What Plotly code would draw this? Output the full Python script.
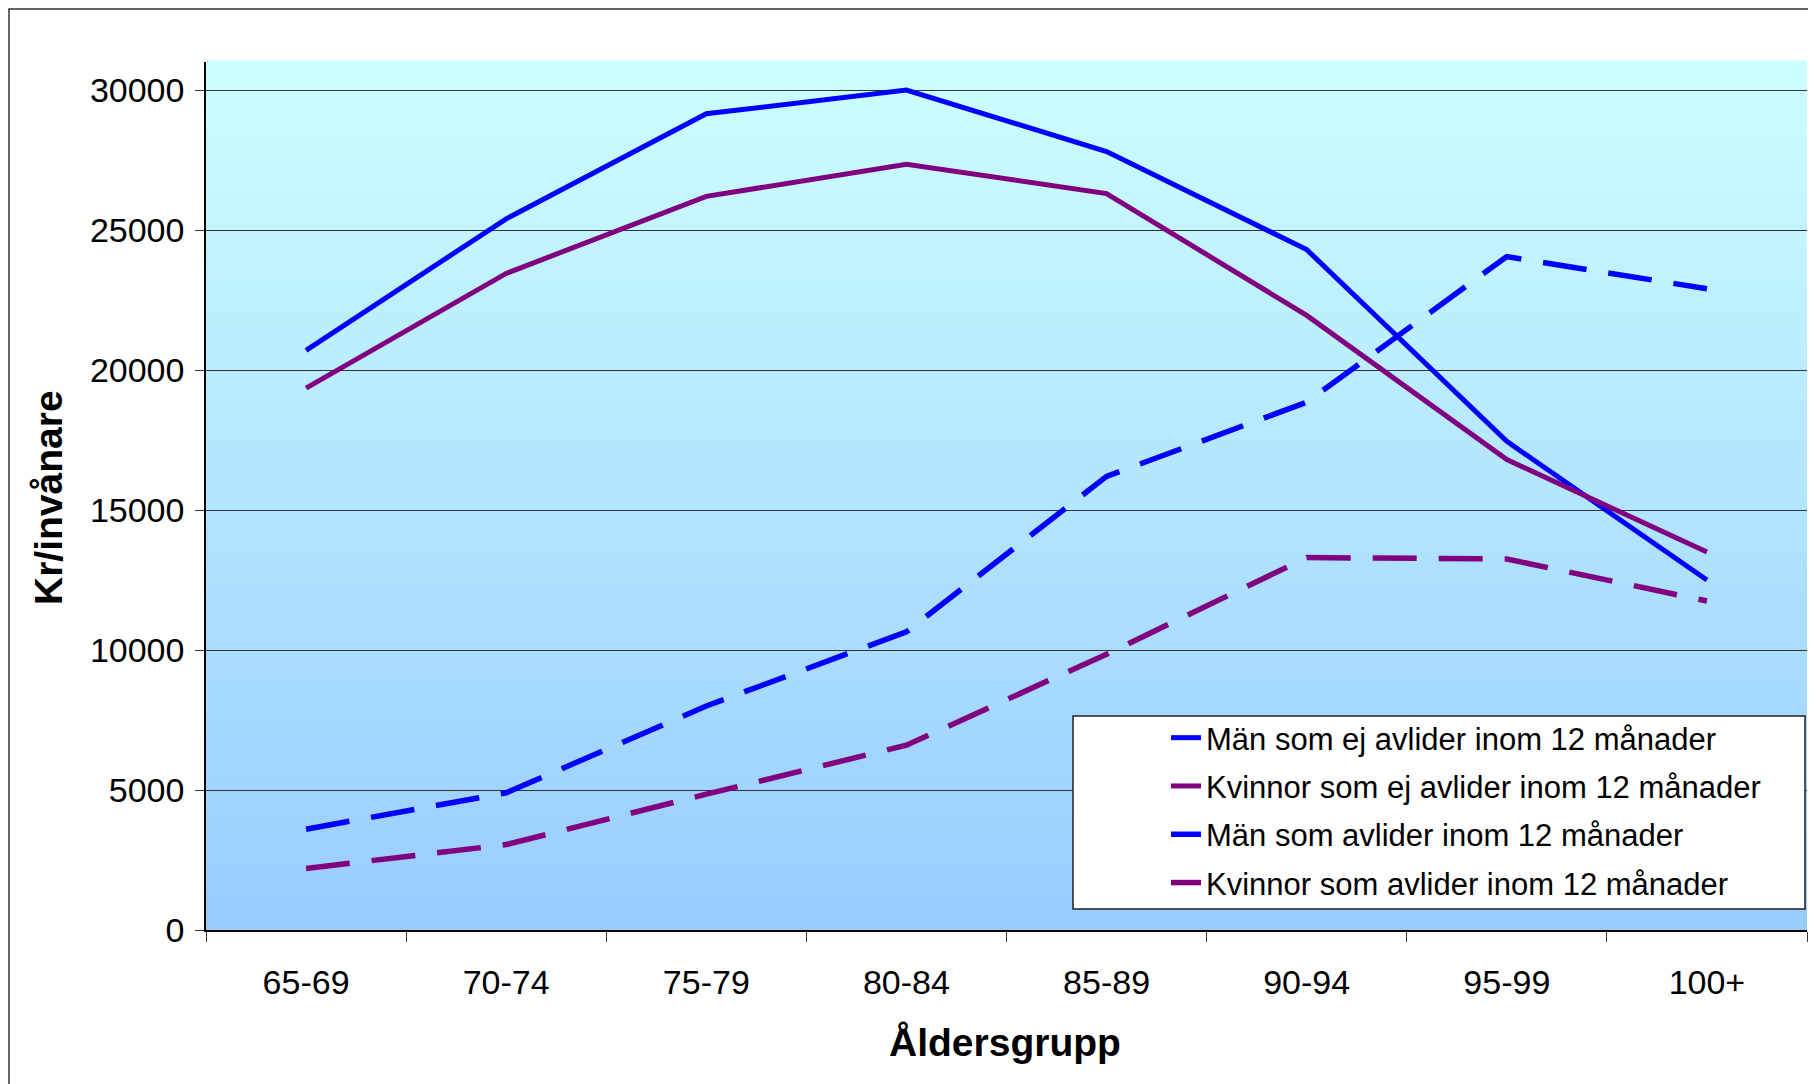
import plotly.graph_objects as go

categories = ["65-69", "70-74", "75-79", "80-84", "85-89", "90-94", "95-99", "100+"]
man_ej = [20700, 25400, 29150, 30000, 27800, 24300, 17450, 12500]
kvinnor_ej = [19350, 23450, 26200, 27350, 26300, 21950, 16800, 13500]
man_avl = [3600, 4900, 8000, 10650, 16200, 18850, 24050, 22900]
kvinnor_avl = [2200, 3050, 4850, 6600, 9850, 13300, 13250, 11750]
series_names = [
    "Män som ej avlider inom 12 månader",
    "Kvinnor som ej avlider inom 12 månader",
    "Män som avlider inom 12 månader",
    "Kvinnor som avlider inom 12 månader",
]
y_ticks = [0, 5000, 10000, 15000, 20000, 25000, 30000]

W, H = 1816, 1084
OFF = 8  # page body margin
L, R, T, B = 206 - OFF, 1807 - OFF, 62 - OFF, 930 - OFF
pw, ph = R - L, B - T


def px_x(x):
    return (x - OFF - L) / pw


def px_y(y):
    return (B - (y - OFF)) / ph


BLUE = "#0000FF"
PURPLE = "#800080"

fig = go.Figure()
styles = [
    (man_ej, BLUE, "solid"),
    (kvinnor_ej, PURPLE, "solid"),
    (man_avl, BLUE, "44px,22px"),
    (kvinnor_avl, PURPLE, "44px,22px"),
]
for i, (vals, col, dash) in enumerate(styles):
    fig.add_trace(go.Scatter(
        x=categories, y=vals, mode="lines", name=series_names[i],
        legendgroup=f"g{i}",
        line=dict(color=col, width=5.5 if dash != "solid" else 5, dash=dash),
    ))

shapes = []
# gradient background
n = 80
top = (204, 255, 255)
bot = (153, 204, 255)
for k in range(n):
    f = k / (n - 1)
    c = tuple(round(bot[j] + (top[j] - bot[j]) * f) for j in range(3))
    shapes.append(dict(type="rect", xref="paper", yref="paper",
                       x0=0, x1=1, y0=k / n, y1=(k + 1) / n + 0.002,
                       fillcolor=f"rgb{c}", line=dict(width=0), layer="below"))
# legend box
shapes.append(dict(type="rect", xref="paper", yref="paper",
                   x0=px_x(1073), x1=px_x(1805), y0=px_y(909), y1=px_y(716),
                   fillcolor="white", line=dict(color="#222222", width=1.5),
                   layer="above"))
# outer frame
shapes.append(dict(type="rect", xref="paper", yref="paper",
                   x0=px_x(9), x1=px_x(1840), y0=px_y(1110), y1=px_y(9),
                   fillcolor="rgba(0,0,0,0)", line=dict(color="#333333", width=1.5),
                   layer="above"))

fig.update_layout(
    width=W, height=H,
    margin=dict(l=L, r=W - R, t=T, b=H - B, autoexpand=False),
    paper_bgcolor="white",
    plot_bgcolor="#CCFFFF",
    font=dict(family="Liberation Sans, Arial, sans-serif", color="black", size=34),
    shapes=shapes,
    showlegend=True,
    legend=dict(
        x=px_x(1166), y=px_y(711), xanchor="left", yanchor="top",
        bgcolor="rgba(0,0,0,0)", borderwidth=0,
        font=dict(size=31), tracegroupgap=5,
    ),
    xaxis=dict(
        type="category", range=[-0.5, 7.5], tickson="boundaries",
        ticks="outside", ticklen=10, tickcolor="#333333",
        showgrid=False, showline=True, linecolor="black", linewidth=1.5,
        ticklabelstandoff=21, tickfont=dict(size=34),
    ),
    yaxis=dict(
        range=[0, 31000], tickvals=y_ticks, tickformat="d",
        ticks="outside", ticklen=9, tickcolor="#333333",
        showgrid=True, gridcolor="#333333", gridwidth=1,
        showline=True, linecolor="black", linewidth=1.5,
        zeroline=False, ticklabelstandoff=4, tickfont=dict(size=34),
    ),
    annotations=[
        dict(text="<b>Kr/invånare</b>", xref="paper", yref="paper",
             x=px_x(49), y=px_y(498), textangle=-90, showarrow=False,
             xanchor="center", yanchor="middle", font=dict(size=39)),
        dict(text="<b>Åldersgrupp</b>", xref="paper", yref="paper",
             x=px_x(1005), y=px_y(1042), showarrow=False,
             xanchor="center", yanchor="middle", font=dict(size=39)),
    ],
)

fig.write_html("out.html")
